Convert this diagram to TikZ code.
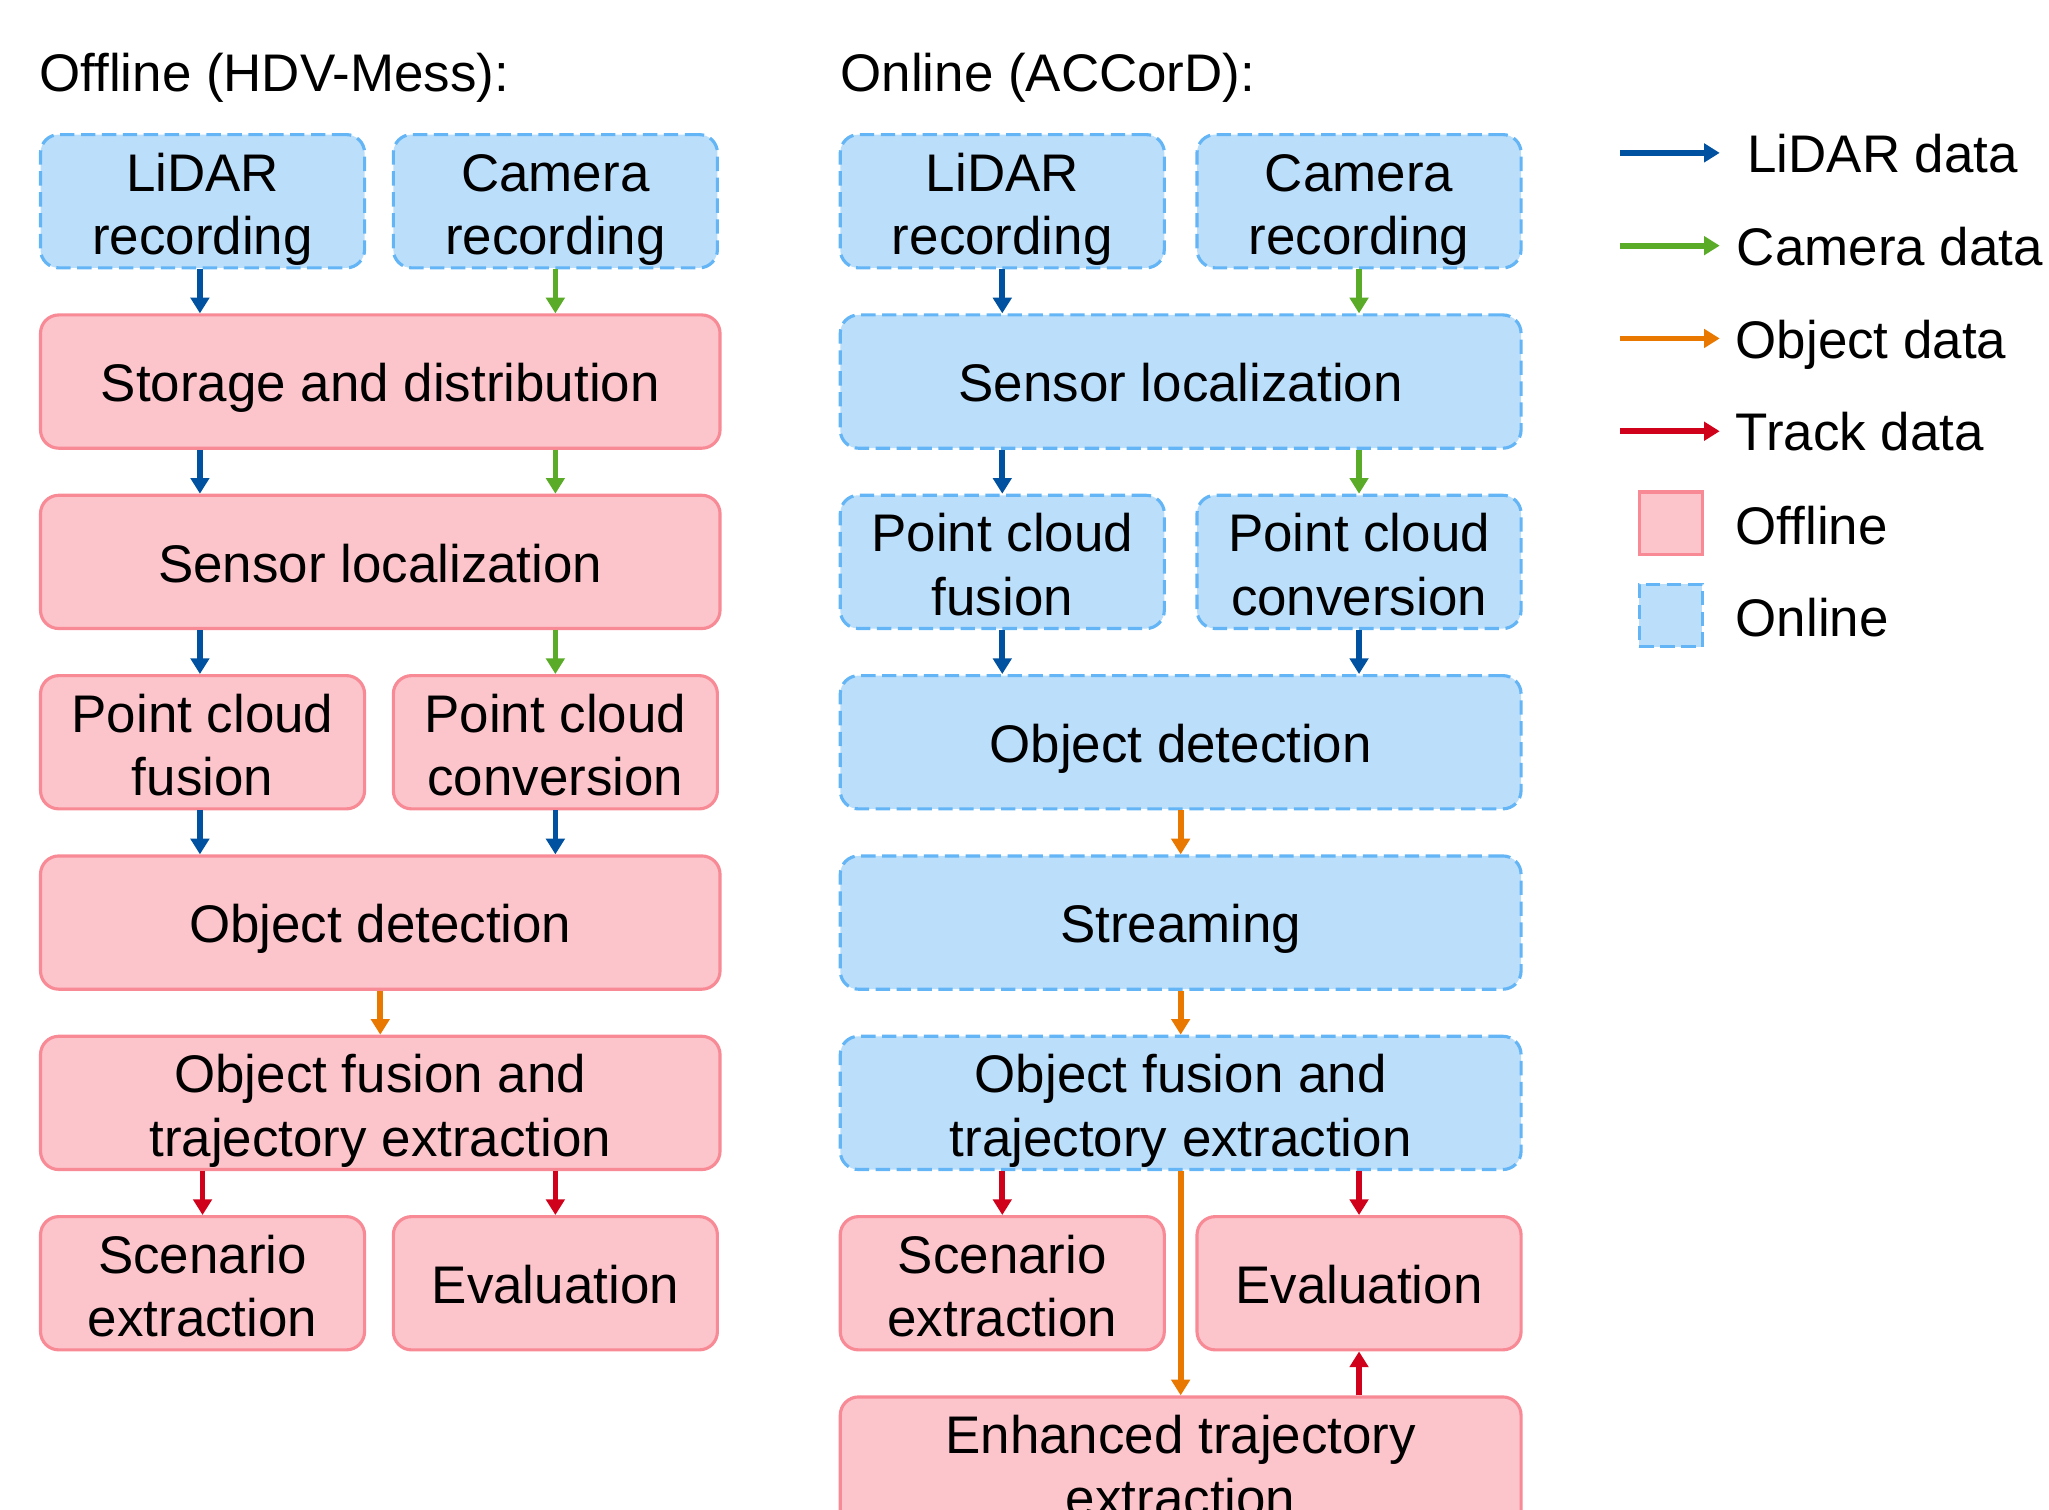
\documentclass[tikz,border=0pt]{standalone}
\usepackage{fontspec}
\setmainfont{Liberation Sans}
\usetikzlibrary{arrows.meta}
\definecolor{pinkfill}{RGB}{252,196,203}
\definecolor{pinkdraw}{RGB}{248,138,150}
\definecolor{bluefill}{RGB}{187,222,251}
\definecolor{bluedraw}{RGB}{100,181,246}
\definecolor{lidarc}{RGB}{0,82,160}
\definecolor{camc}{RGB}{90,172,40}
\definecolor{objc}{RGB}{232,120,0}
\definecolor{trackc}{RGB}{208,2,27}
\tikzset{
  box/.style={rounded corners=14pt, line width=2.4pt, inner sep=0pt, align=center,
    font=\fontsize{40.5}{48.5}\selectfont, minimum height=102pt, text height=31pt, text depth=0pt},
  twol/.style={text height=81.5pt, text depth=0pt},
  offbox/.style={box, draw=pinkdraw, fill=pinkfill},
  onbox/.style={box, draw=bluedraw, fill=bluefill, dash pattern=on 11pt off 5pt},
  wide/.style={minimum width=520pt},
  half/.style={minimum width=248pt},
  flow/.style={line width=4.4pt, -{Triangle[length=12pt,width=14pt]}},
  lidar/.style={flow, draw=lidarc, fill=lidarc},
  cam/.style={flow, draw=camc, fill=camc},
  obj/.style={flow, draw=objc, fill=objc},
  track/.style={flow, draw=trackc, fill=trackc},
  lbl/.style={font=\fontsize{40.5}{48}\selectfont, anchor=base west, inner sep=0pt},
}
\begin{document}
\begin{tikzpicture}[x=1pt,y=-1pt]
\useasboundingbox (0,0) rectangle (1568,1155);
\clip (0,0) rectangle (1568,1155);
% titles
\node[lbl] (t1) at (30,70) {Offline (HDV-Mess):};
\node[lbl] (t2) at (643,70) {Online (ACCorD):};
% left column
\node[onbox,half,twol] (lrec) at (155,154) {LiDAR\\recording};
\node[onbox,half,twol] (crec) at (425,154) {Camera\\recording};
\node[offbox,wide] (stor) at (291,292) {Storage and distribution};
\node[offbox,wide] (sloc) at (291,430) {Sensor localization};
\node[offbox,half,twol] (pcf) at (155,568) {Point cloud\\fusion};
\node[offbox,half,twol] (pcc) at (425,568) {Point cloud\\conversion};
\node[offbox,wide] (od) at (291,706) {Object detection};
\node[offbox,wide,twol] (of) at (291,844) {Object fusion and\\trajectory extraction};
\node[offbox,half,twol] (sc) at (155,982) {Scenario\\extraction};
\node[offbox,half] (ev) at (425,982) {Evaluation};
\draw[lidar] (lrec.south -| 153,0) -- (stor.north -| 153,0);
\draw[cam] (crec.south) -- (stor.north -| crec.south);
\draw[lidar] (stor.south -| 153,0) -- (sloc.north -| 153,0);
\draw[cam] (stor.south -| crec.south) -- (sloc.north -| crec.south);
\draw[lidar] (sloc.south -| 153,0) -- (pcf.north -| 153,0);
\draw[cam] (sloc.south -| pcc.north) -- (pcc.north);
\draw[lidar] (pcf.south -| 153,0) -- (od.north -| 153,0);
\draw[lidar] (pcc.south) -- (od.north -| pcc.south);
\draw[obj] (od.south) -- (of.north);
\draw[track] (of.south -| 155,0) -- (sc.north);
\draw[track] (of.south -| ev.north) -- (ev.north);
% right column
\node[onbox,half,twol] (rlrec) at (767,154) {LiDAR\\recording};
\node[onbox,half,twol] (rcrec) at (1040,154) {Camera\\recording};
\node[onbox,minimum width=521pt] (rsloc) at (903.5,292) {Sensor localization};
\node[onbox,half,twol] (rpcf) at (767,430) {Point cloud\\fusion};
\node[onbox,half,twol] (rpcc) at (1040,430) {Point cloud\\conversion};
\node[onbox,minimum width=521pt] (rod) at (903.5,568) {Object detection};
\node[onbox,minimum width=521pt] (rst) at (903.5,706) {Streaming};
\node[onbox,minimum width=521pt,twol] (rof) at (903.5,844) {Object fusion and\\trajectory extraction};
\node[offbox,half,twol] (rsc) at (767,982) {Scenario\\extraction};
\node[offbox,half] (rev) at (1040,982) {Evaluation};
\node[offbox,minimum width=521pt,twol] (enh) at (903.5,1120) {Enhanced trajectory\\extraction};
\draw[lidar] (rlrec.south) -- (rsloc.north -| rlrec.south);
\draw[cam] (rcrec.south) -- (rsloc.north -| rcrec.south);
\draw[lidar] (rsloc.south -| rpcf.north) -- (rpcf.north);
\draw[cam] (rsloc.south -| rpcc.north) -- (rpcc.north);
\draw[lidar] (rpcf.south) -- (rod.north -| rpcf.south);
\draw[lidar] (rpcc.south) -- (rod.north -| rpcc.south);
\draw[obj] (rod.south) -- (rst.north);
\draw[obj] (rst.south) -- (rof.north);
\draw[track] (rof.south -| rsc.north) -- (rsc.north);
\draw[track] (rof.south -| rev.north) -- (rev.north);
\draw[obj] (rof.south) -- (enh.north);
\draw[track] (enh.north -| rev.south) -- (rev.south);
% legend
\coordinate (la1) at (1240,117); \coordinate (lb1) at (1316,117);
\coordinate (la2) at (1240,188); \coordinate (lb2) at (1316,188);
\coordinate (la3) at (1240,259); \coordinate (lb3) at (1316,259);
\coordinate (la4) at (1240,330); \coordinate (lb4) at (1316,330);
\draw[lidar] (la1) -- (lb1);
\draw[cam] (la2) -- (lb2);
\draw[obj] (la3) -- (lb3);
\draw[track] (la4) -- (lb4);
\node[lbl] (l1) at (1337,132) {LiDAR data};
\node[lbl] (l2) at (1329,203) {Camera data};
\node[lbl] (l3) at (1328,274) {Object data};
\node[lbl] (l4) at (1328,345) {Track data};
\node[draw=pinkdraw, fill=pinkfill, line width=2.4pt, minimum width=48pt, minimum height=48pt, inner sep=0pt] (lo) at (1278.5,400.5) {};
\node[draw=bluedraw, fill=bluefill, line width=2.4pt, dash pattern=on 11pt off 5pt, minimum width=48pt, minimum height=48pt, inner sep=0pt] (ln) at (1278.5,471) {};
\node[lbl] (l5) at (1328,417) {Offline};
\node[lbl] (l6) at (1328,487) {Online};
\end{tikzpicture}
\end{document}
